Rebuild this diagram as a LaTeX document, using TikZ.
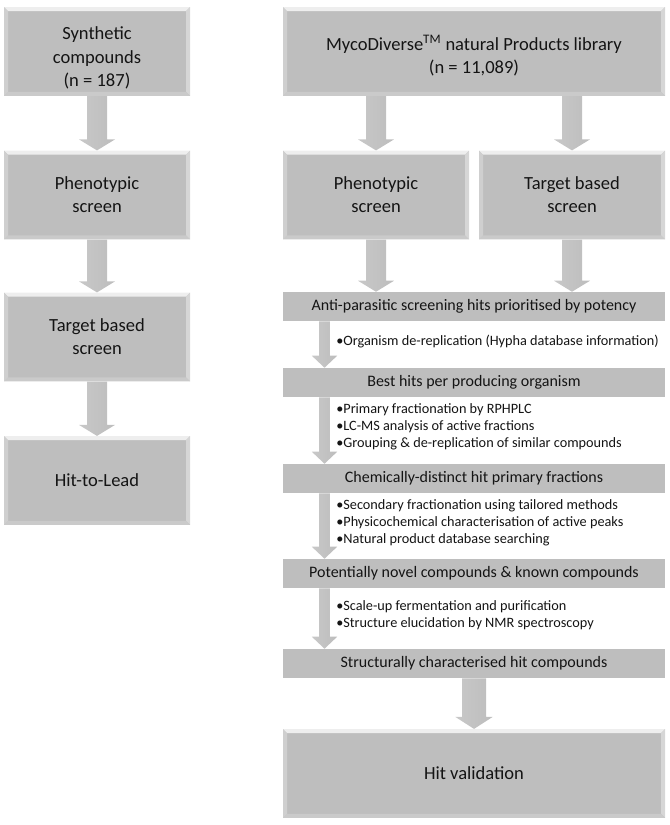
\documentclass[tikz,border=0pt]{standalone}
\usepackage{fontspec}
\setmainfont{Carlito}
\usetikzlibrary{calc}
\definecolor{boxfill}{HTML}{BEBEBE}
\definecolor{bevtop}{HTML}{EEEEEE}
\definecolor{bevside}{HTML}{D6D6D6}
\definecolor{bevbot}{HTML}{CACACA}
\definecolor{txt}{HTML}{141414}
\definecolor{arrL}{HTML}{C8C8C8}
\definecolor{arrM}{HTML}{979797}
\definecolor{arrR}{HTML}{BDBDBD}
\newcommand\fatarrow[5]{%
  \shade[left color=arrL, middle color=arrM, right color=arrR] let \p1=(#1), \p2=(#2) in
   (\x1-#3,\y1) -- (\x1+#3,\y1) -- (\x1+#3,\y2+#5) -- (\x1+#4,\y2+#5) -- (\x1,\y2)
   -- (\x1-#4,\y2+#5) -- (\x1-#3,\y2+#5) -- cycle;}
\tikzset{
  bevelbox/.style={fill=boxfill, inner sep=0pt, align=center, text=txt,
    font=\fontsize{13.9}{17.4}\selectfont,
    path picture={
      \coordinate (pnw) at (path picture bounding box.north west);
      \coordinate (pne) at (path picture bounding box.north east);
      \coordinate (psw) at (path picture bounding box.south west);
      \coordinate (pse) at (path picture bounding box.south east);
      \fill[bevtop] (pnw) -- (pne) -- ([xshift=-3pt,yshift=-3pt]pne) -- ([xshift=3pt,yshift=-3pt]pnw) -- cycle;
      \fill[bevside] (pne) -- (pse) -- ([xshift=-3pt,yshift=3pt]pse) -- ([xshift=-3pt,yshift=-3pt]pne) -- cycle;
      \fill[bevbot] (psw) -- (pse) -- ([xshift=-3pt,yshift=3pt]pse) -- ([xshift=3pt,yshift=3pt]psw) -- cycle;
      \fill[bevside!70!boxfill] (pnw) -- (psw) -- ([xshift=3pt,yshift=3pt]psw) -- ([xshift=3pt,yshift=-3pt]pnw) -- cycle;
    }},
  narrowbox/.style={bevelbox, minimum width=139.5pt, minimum height=66.5pt},
  widebox/.style={bevelbox, minimum width=286.5pt, minimum height=66.5pt},
  barbox/.style={fill=boxfill, inner sep=0pt, text=txt, minimum width=286.5pt,
    minimum height=21.75pt, font=\fontsize{12}{14}\selectfont},
  bullets/.style={anchor=west, inner sep=0pt, align=left, text=txt,
    font=\fontsize{10.7}{12.9}\selectfont}
}
\begin{document}
\begin{tikzpicture}[x=0.75pt,y=-0.75pt]
\useasboundingbox (0,0) rectangle (669,825);
% left column
\node[narrowbox] (syn) at (97,51.5) {\raisebox{-8.5pt}[0pt][0pt]{\parbox{130pt}{\centering Synthetic\\compounds\\(n = 187)}}};
\node[narrowbox] (phL) at (97,195) {Phenotypic\\screen};
\node[narrowbox] (tbL) at (97,337) {Target based\\screen};
\node[narrowbox] (h2l) at (97,480.5) {Hit-to-Lead};
% right column
\node[widebox] (myco) at (474,51.5) {\raisebox{-7pt}[0pt][0pt]{\parbox{280pt}{\centering MycoDiverse\textsuperscript{TM} natural Products library\\(n = 11,089)}}};
\node[narrowbox] (phR) at (376,195) {Phenotypic\\screen};
\node[narrowbox] (tbR) at (572,195) {Target based\\screen};
\node[barbox] (b1) at (474,306.5) {Anti-parasitic screening hits prioritised by potency};
\node[barbox] (b2) at (474,382.5) {Best hits per producing organism};
\node[barbox] (b3) at (474,478.5) {Chemically-distinct hit primary fractions};
\node[barbox] (b4) at (474,573.5) {Potentially novel compounds \& known compounds};
\node[barbox] (b5) at (474,663.5) {Structurally characterised hit compounds};
\node[widebox] (hv) at (474,773.5) {Hit validation};
% bullet texts
\node[bullets] (t1) at (336,342) {\textbullet Organism de-replication (Hypha database information)};
\node[bullets] (t2) at (336,427) {\textbullet Primary fractionation by RPHPLC\\\textbullet LC-MS analysis of active fractions\\\textbullet Grouping \& de-replication of similar compounds};
\node[bullets] (t3) at (336,522.5) {\textbullet Secondary fractionation using tailored methods\\\textbullet Physicochemical characterisation of active peaks\\\textbullet Natural product database searching};
\node[bullets] (t4) at (336,615.5) {\textbullet Scale-up fermentation and purification\\\textbullet Structure elucidation by NMR spectroscopy};
\coordinate (ax) at (324.5,0);
% arrows left column
\fatarrow{syn.south}{phL.north}{7.5pt}{13.5pt}{8.25pt}
\fatarrow{phL.south}{tbL.north}{7.5pt}{13.5pt}{8.25pt}
\fatarrow{tbL.south}{h2l.north}{7.5pt}{13.5pt}{8.25pt}
% arrows right column
\fatarrow{myco.south -| phR.north}{phR.north}{7.5pt}{13.5pt}{8.25pt}
\fatarrow{myco.south -| tbR.north}{tbR.north}{7.5pt}{13.5pt}{8.25pt}
\fatarrow{phR.south}{b1.north -| phR.south}{7.5pt}{13.5pt}{8.25pt}
\fatarrow{tbR.south}{b1.north -| tbR.south}{7.5pt}{13.5pt}{8.25pt}
\fatarrow{b1.south -| ax}{b2.north -| ax}{4.1pt}{9.5pt}{9pt}
\fatarrow{b2.south -| ax}{b3.north -| ax}{4.1pt}{9.5pt}{9pt}
\fatarrow{b3.south -| ax}{b4.north -| ax}{4.1pt}{9.5pt}{9pt}
\fatarrow{b4.south -| ax}{b5.north -| ax}{4.1pt}{9.5pt}{9pt}
\fatarrow{b5.south}{hv.north}{9pt}{14pt}{9pt}
\end{tikzpicture}
\end{document}
